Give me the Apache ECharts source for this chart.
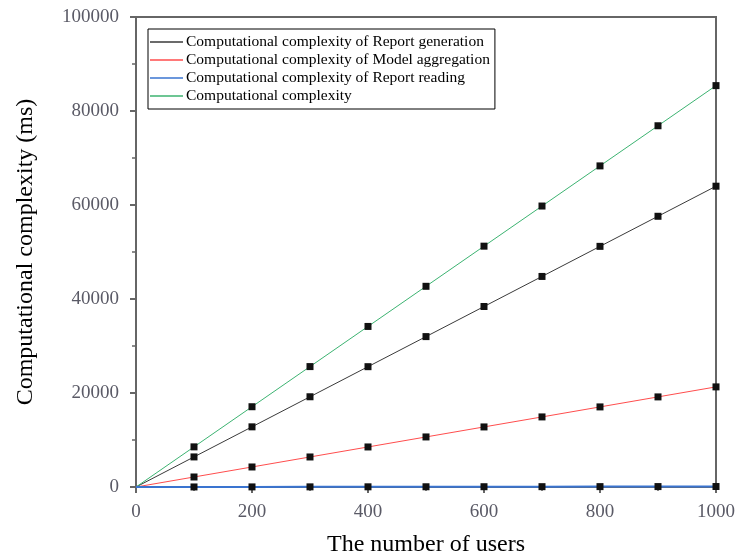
<!DOCTYPE html>
<html>
<head>
<meta charset="utf-8">
<script src="https://cdn.jsdelivr.net/npm/echarts@6/dist/echarts.min.js"></script>
<style>html,body{margin:0;padding:0;background:#fff;}#c{width:735px;height:557px;}</style>
</head>
<body>
<div id="c"></div>
<script>
var users = [0, 100, 200, 300, 400, 500, 600, 700, 800, 900, 1000];
var reportGeneration = [0, 6400, 12800, 19200, 25600, 32000, 38400, 44800, 51200, 57600, 64000];
var modelAggregation = [0, 2130, 4260, 6390, 8520, 10650, 12780, 14910, 17040, 19170, 21300];
var reportReading = [0, 10, 20, 30, 40, 50, 60, 70, 80, 90, 100];
var totalComplexity = [0, 8540, 17080, 25620, 34160, 42700, 51240, 59780, 68320, 76860, 85400];
var seriesNames = [
  'Computational complexity of Report generation',
  'Computational complexity of Model aggregation',
  'Computational complexity of Report reading',
  'Computational complexity'
];
var seriesColors = ['#3a3a3a', '#ff4d4d', '#3a74d0', '#3cb371'];
var seriesWidths = [1, 1, 2, 1];
var seriesValues = [reportGeneration, modelAggregation, reportReading, totalComplexity];

var font = 'Liberation Serif';
function build(vals) {
  return vals.map(function (v, i) {
    var item = { value: [users[i], v] };
    if (i === 0) item.symbol = 'none';
    return item;
  });
}
var series = seriesValues.map(function (vals, k) {
  return {
    name: seriesNames[k],
    type: 'line',
    data: build(vals),
    symbol: 'rect',
    symbolSize: 7,
    showAllSymbol: true,
    color: seriesColors[k],
    lineStyle: { color: seriesColors[k], width: seriesWidths[k] },
    itemStyle: { color: '#111', borderColor: '#111', borderWidth: 0 },
    emphasis: { disabled: true },
    animation: false,
    z: k === 2 ? 3 : 2
  };
});
function plain(v) { return String(v); }

var chart = echarts.init(document.getElementById('c'), null, { renderer: 'canvas' });
chart.setOption({
  backgroundColor: '#fff',
  animation: false,
  grid: { left: 136, right: 19, top: 17, bottom: 70, show: true, borderColor: '#666', borderWidth: 2, backgroundColor: 'transparent', containLabel: false, outerBoundsMode: 'none' },
  legend: {
    orient: 'vertical',
    left: 148,
    top: 29,
    padding: [4, 5, 4, 2],
    borderColor: '#000',
    borderWidth: 1,
    itemWidth: 33,
    itemHeight: 1.5,
    itemGap: 0,
    icon: 'rect',
    data: seriesNames.map(function (n, k) { return { name: n, itemStyle: { color: seriesColors[k] } }; }),
    textStyle: { fontFamily: font, fontSize: 15.5, color: '#000', lineHeight: 18, padding: [0, 0, 0, -2] },
    selectedMode: false
  },
  xAxis: {
    type: 'value',
    min: 0, max: 1000, interval: 200,
    name: 'The number of users',
    nameLocation: 'middle',
    nameGap: 46,
    nameTextStyle: { fontFamily: font, fontSize: 24, color: '#000' },
    axisLine: { show: true, onZero: false, lineStyle: { color: '#666', width: 2 } },
    axisTick: { show: true, length: 6, lineStyle: { color: '#666', width: 2 } },
    minorTick: { show: true, splitNumber: 2, length: 4, lineStyle: { color: '#666', width: 1.5 } },
    splitLine: { show: false },
    axisLabel: { fontFamily: font, fontSize: 19, color: '#5a5a66', margin: 16, formatter: plain }
  },
  yAxis: {
    type: 'value',
    min: 0, max: 100000, interval: 20000,
    name: 'Computational complexity (ms)',
    nameLocation: 'middle',
    nameGap: 98,
    nameTextStyle: { fontFamily: font, fontSize: 24, color: '#000' },
    axisLine: { show: true, lineStyle: { color: '#666', width: 2 } },
    axisTick: { show: true, length: 6, lineStyle: { color: '#666', width: 2 } },
    minorTick: { show: true, splitNumber: 2, length: 4, lineStyle: { color: '#666', width: 1.5 } },
    splitLine: { show: false },
    axisLabel: { fontFamily: font, fontSize: 19, color: '#5a5a66', margin: 17, formatter: plain }
  },
  series: series
});
</script>
</body>
</html>
